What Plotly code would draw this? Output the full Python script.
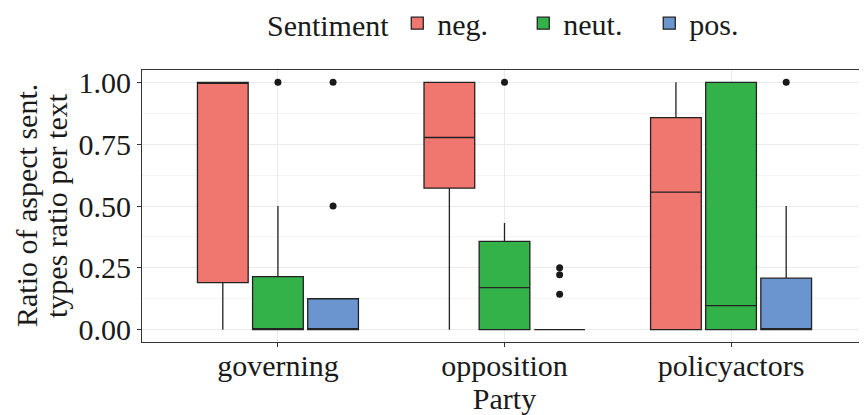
import plotly.graph_objects as go

parties = ["governing", "opposition", "policyactors"]
sentiments = ["neg.", "neut.", "pos."]
colors = {"neg.": "#F07670", "neut.": "#33B24A", "pos.": "#6B95CF"}

# precomputed box statistics per sentiment (one value per party)
q1 = {"neg.": [0.19, 0.572, 0.0], "neut.": [0.0, 0.0, 0.0], "pos.": [0.0, 0.0, 0.0]}
median = {"neg.": [1.0, 0.777, 0.556], "neut.": [0.0, 0.17, 0.097], "pos.": [0.0, 0.0, 0.0]}
q3 = {"neg.": [1.0, 1.0, 0.857], "neut.": [0.214, 0.357, 1.0], "pos.": [0.125, 0.0, 0.208]}
lower = {"neg.": [0.0, 0.0, 0.0], "neut.": [0.0, 0.0, 0.0], "pos.": [0.0, 0.0, 0.0]}
upper = {"neg.": [1.0, 1.0, 1.0], "neut.": [0.5, 0.431, 1.0], "pos.": [0.125, 0.0, 0.5]}
outliers = {
    "neg.": [[], [], []],
    "neut.": [[1.0], [1.0], []],
    "pos.": [[1.0, 0.5], [0.25, 0.222, 0.143], [1.0]],
}
y_title_lines = ["Ratio of aspect sent.", "types ratio per text"]

FONT = "Liberation Serif"
FS = 30
fig = go.Figure()
for s in sentiments:
    has_pts = any(len(o) for o in outliers[s])
    fig.add_trace(go.Box(
        name=s,
        x=parties,
        y=outliers[s] if has_pts else None,
        q1=q1[s], median=median[s], q3=q3[s],
        lowerfence=lower[s], upperfence=upper[s],
        boxpoints="outliers" if has_pts else False, jitter=0, pointpos=0,
        whiskerwidth=0,
        fillcolor=colors[s],
        line=dict(color="#222222", width=1.3),
        marker=dict(color="#1a1a1a", size=7, outliercolor="#1a1a1a",
                    line=dict(width=0)),
        hoverinfo="skip",
    ))

# y-axis title as two rotated lines (tighter line spacing than <br>)
for i, line in enumerate(y_title_lines):
    fig.add_annotation(
        text=line, xref="paper", yref="paper", x=0, y=0.5,
        xanchor="center", yanchor="middle", textangle=-90,
        xshift=[-116, -86][i], showarrow=False, borderpad=0,
        font=dict(family=FONT, size=FS, color="#1a1a1a"),
    )

# page body has an 8px default margin, so the figure is sized 8px smaller
fig.update_layout(
    width=859, height=407,
    margin=dict(l=134, r=0, t=62, b=73, autoexpand=False),
    paper_bgcolor="white", plot_bgcolor="white",
    boxmode="group", boxgap=0.27, boxgroupgap=0.08,
    font=dict(family=FONT, size=FS, color="#1a1a1a"),
    showlegend=True,
    legend=dict(orientation="h", x=0.522, xanchor="center", y=1.172, yanchor="middle",
                title=dict(text="Sentiment", font=dict(size=FS)),
                font=dict(size=FS), itemwidth=30, tracegroupgap=0,
                entrywidth=81, entrywidthmode="pixels"),
    xaxis=dict(
        title=dict(text="Party", standoff=9, font=dict(size=FS)),
        range=[-0.6, 2.6], showgrid=True, gridcolor="#EBEBEB", gridwidth=1,
        ticks="outside", ticklen=4, tickcolor="#333333", ticklabelstandoff=-7,
        showline=True, linecolor="#333333", linewidth=1, mirror=True,
        tickfont=dict(size=FS), zeroline=False,
    ),
    yaxis=dict(
        range=[-0.05, 1.05], dtick=0.25, tick0=0, tickformat=".2f",
        showgrid=True, gridcolor="#EBEBEB", gridwidth=1,
        minor=dict(dtick=0.125, tick0=0, showgrid=True, gridcolor="#F4F4F4", gridwidth=1),
        ticks="outside", ticklen=4, tickcolor="#333333",
        showline=True, linecolor="#333333", linewidth=1, mirror=True,
        tickfont=dict(size=FS), zeroline=False,
    ),
)

fig.write_html("out.html")
